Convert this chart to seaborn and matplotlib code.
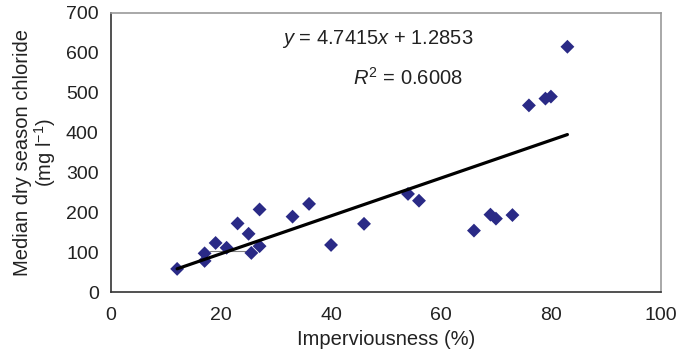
import numpy as np
import pandas as pd
import matplotlib
matplotlib.use("Agg")
import matplotlib.pyplot as plt
import seaborn as sns

# values
imperviousness = [12, 17, 17, 19, 21, 23, 25, 25.5, 27, 27, 33, 36, 40, 46,
                  54, 56, 66, 69, 70, 73, 76, 79, 80, 83]
chloride = [58, 97, 78, 123, 111, 172, 146, 98, 115, 207, 189, 221, 118, 171,
            246, 229, 154, 194, 184, 193, 468, 485, 490, 615]
slope = 4.7415
intercept = 1.2853
r_squared = 0.6008
connector_x = [18, 25]
connector_y = [103, 103]

df = pd.DataFrame({"Imperviousness": imperviousness, "Chloride": chloride})

sns.set_style("white")
plt.rcParams["font.family"] = ["Liberation Sans", "DejaVu Sans"]
plt.rcParams["mathtext.fontset"] = "custom"
plt.rcParams["mathtext.rm"] = "Liberation Sans"
plt.rcParams["mathtext.it"] = "Liberation Sans:italic"

fig = plt.figure(figsize=(6.82, 3.57), dpi=100)
ax = fig.add_axes([0.163, 0.182, 0.806, 0.782])

# thin connector line that shows in the original
ax.plot(connector_x, connector_y, color="#808080", lw=0.8, zorder=1)

sns.scatterplot(data=df, x="Imperviousness", y="Chloride", marker="D",
                color="#2a2a86", edgecolor="none", s=50, ax=ax, zorder=3)

# trend line
fit_x = np.array([min(imperviousness), max(imperviousness)])
fit_y = slope * fit_x + intercept
sns.lineplot(x=fit_x, y=fit_y, color="black", lw=2.3, ax=ax, zorder=4)

ax.text(48.5, 635, f"$y$ = {slope}$x$ + {intercept}", fontsize=14.5,
        ha="center", va="center", color="#222222")
ax.text(54, 537, f"$R^2$ = {r_squared}", fontsize=14.5,
        ha="center", va="center", color="#222222")

ax.set_xlim(0, 100)
ax.set_ylim(0, 700)
ax.set_xticks(range(0, 101, 20))
ax.set_yticks(range(0, 701, 100))
ax.tick_params(axis="both", labelsize=14, direction="out", length=4,
               width=1, labelcolor="#222222", color="#555555")
ax.tick_params(axis="x", pad=7)
ax.tick_params(axis="y", pad=5)

for side in ["left", "bottom"]:
    ax.spines[side].set_color("#333333")
    ax.spines[side].set_linewidth(1.2)
for side in ["top", "right"]:
    ax.spines[side].set_color("#999999")
    ax.spines[side].set_linewidth(1.2)

ax.set_xlabel("Imperviousness (%)", fontsize=14.5, color="#222222", labelpad=4)
ax.set_ylabel("Median dry season chloride\n(mg l$^{-1}$)", fontsize=14.5,
              color="#222222", labelpad=6, linespacing=1.0)

fig.savefig("out.png", dpi=100)
